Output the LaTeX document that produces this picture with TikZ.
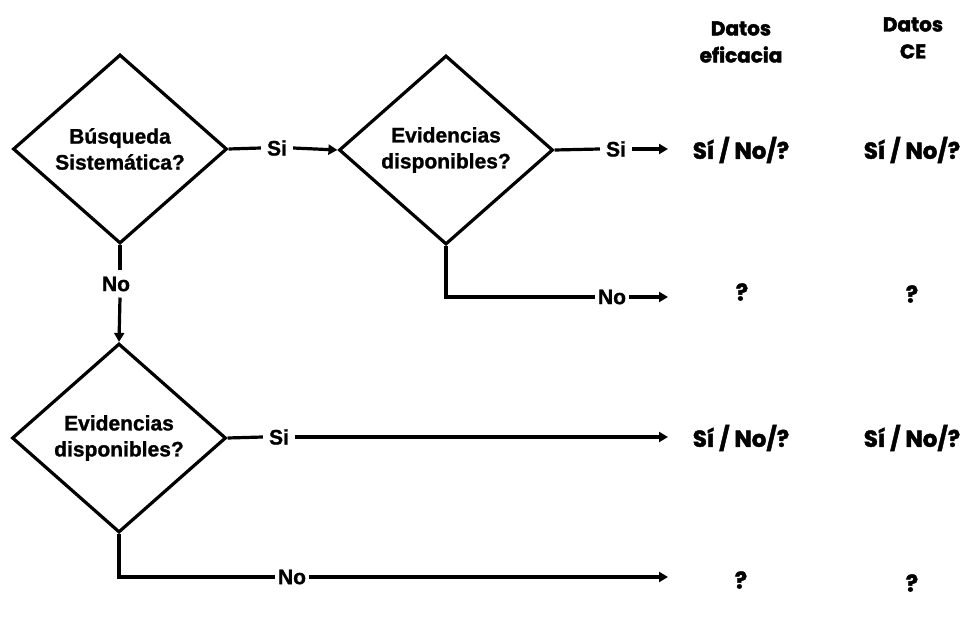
\documentclass[tikz,border=0pt]{standalone}
\usepackage{fontspec}
\setmainfont[BoldFeatures={FakeBold=1.2}]{Liberation Sans}
\newfontfamily\outfont[FakeBold=2]{Poppins}
\usetikzlibrary{shapes.geometric,arrows.meta}

\tikzset{
  x=1pt, y=-1pt,
  decision/.style={diamond, draw, line width=3.2pt, minimum width=214pt,
    minimum height=189pt, inner sep=0pt, align=center,
    font=\fontsize{21}{26}\selectfont\bfseries},
  branch/.style={inner sep=6pt, font=\fontsize{21}{24}\selectfont\bfseries},
  tightbranch/.style={branch, inner xsep=3pt},
  outtext/.style={inner sep=0pt, align=center,
    font=\outfont\fontsize{23}{26}\selectfont\bfseries},
  headtext/.style={outtext, font=\outfont\fontsize{20}{27}\selectfont\bfseries},
  wire/.style={line width=3.2pt},
  arrowwire/.style={wire, -{Triangle[length=9pt,width=10pt]}},
}

\begin{document}
\begin{tikzpicture}
\useasboundingbox (0,0) rectangle (971,617);

% decision diamonds
\node[decision] (d1) at (120,149) {Búsqueda\\Sistemática?};
\node[decision] (d2) at (446,150) {Evidencias\\disponibles?};
\node[decision] (d3) at (119,438) {Evidencias\\disponibles?};

% branch labels
\node[branch] (s1) at (277,148) {Si};
\node[branch] (s2) at (616,149) {Si};
\node[tightbranch] (n2) at (612,297) {No};
\node[branch] (n1) at (116,284) {No};
\node[branch] (s3) at (279,437) {Si};
\node[tightbranch] (n3) at (292,577) {No};

% column headers
\node[headtext] (h1) at (741,42) {Datos\\eficacia};
\node[headtext] (h2) at (913,38) {Datos\\CE};

% outcomes
\node[outtext] (o1a) at (741,150) {Sí / No/?};
\node[outtext] (o1b) at (912,150) {Sí / No/?};
\node[outtext] (o2a) at (742,292) {?};
\node[outtext] (o2b) at (912,294) {?};
\node[outtext] (o3a) at (741,438) {Sí / No/?};
\node[outtext] (o3b) at (912,438) {Sí / No/?};
\node[outtext] (o4a) at (741,580) {?};
\node[outtext] (o4b) at (912,583) {?};

% arrow ends in front of the outcome column
\coordinate (e1) at (668,149);
\coordinate (e2) at (668,297);
\coordinate (e3) at (668,437);
\coordinate (e4) at (668,577);

% connectors
\draw[wire] (d1.east) -- (s1.west);
\draw[arrowwire] (s1.east) -- (d2.west);
\draw[wire] (d2.east) -- (s2.west);
\draw[arrowwire] (s2.east) -- (e1);
\draw[wire] (d2.south) |- (n2.west);
\draw[arrowwire] (n2.east) -- (e2);
\draw[wire] (d1.south) -- (d1.south |- n1.north);
\draw[arrowwire] (d1.south |- n1.south) -- (d3.north);
\draw[wire] (d3.east) -- (s3.west);
\draw[arrowwire] (s3.east) -- (e3);
\draw[wire] (d3.south) |- (n3.west);
\draw[arrowwire] (n3.east) -- (e4);
\end{tikzpicture}
\end{document}
